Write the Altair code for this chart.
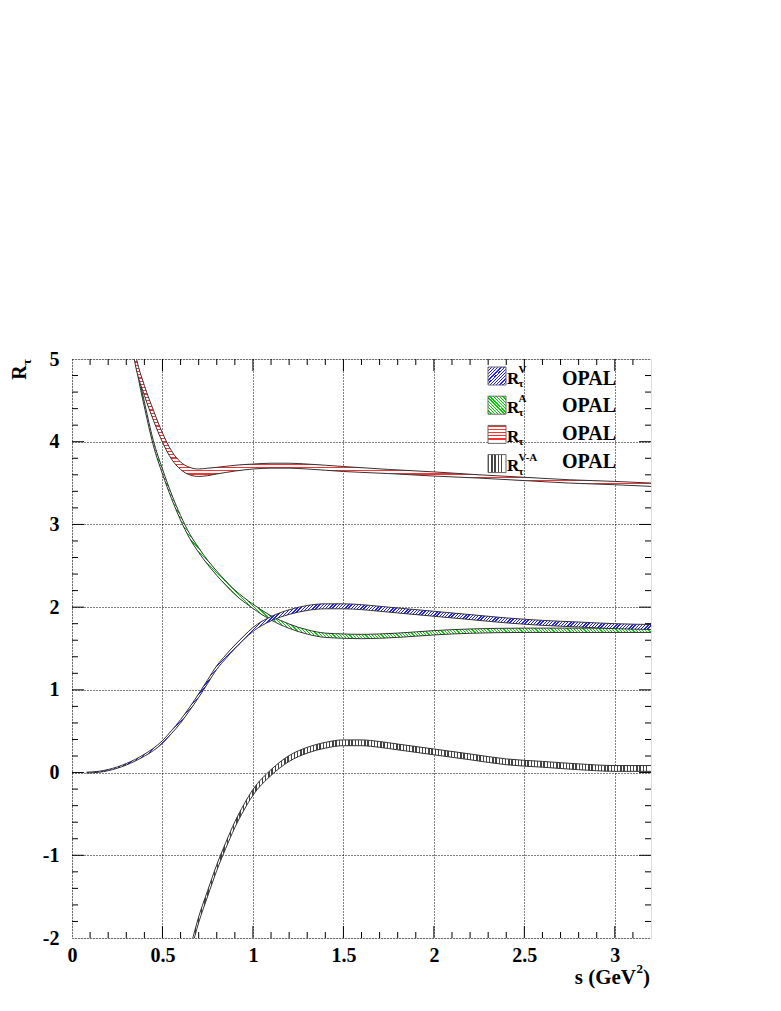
import math
import altair as alt
import pandas as pd

# ---------------- values ----------------
# R_tau^V (blue band)
s_V = [0.08, 0.15, 0.20, 0.25, 0.30, 0.35, 0.40, 0.45, 0.50, 0.55,
       0.60, 0.65, 0.70, 0.75, 0.80, 0.85, 0.90, 0.95, 1.00,
       1.10, 1.20, 1.30, 1.40, 1.50, 1.60, 1.70, 1.80,
       2.00, 2.20, 2.40, 2.60, 2.80, 3.00, 3.20]
V = [0.00, 0.01, 0.03, 0.06, 0.10, 0.15, 0.21, 0.28, 0.37, 0.49,
     0.62, 0.77, 0.93, 1.10, 1.27, 1.40, 1.52, 1.63, 1.73,
     1.86, 1.94, 1.99, 2.01, 2.01, 2.00, 1.98, 1.96,
     1.92, 1.88, 1.84, 1.81, 1.79, 1.77, 1.76]
V_err = [0.005, 0.006, 0.007, 0.008, 0.009, 0.010, 0.012, 0.014, 0.016, 0.018,
         0.020, 0.020, 0.022, 0.022, 0.022, 0.022, 0.022, 0.022, 0.024,
         0.026, 0.028, 0.030, 0.030, 0.030, 0.030, 0.030, 0.030,
         0.030, 0.030, 0.030, 0.030, 0.030, 0.030, 0.030]

# R_tau^A (green band)
s_A = [0.33, 0.35, 0.38, 0.40, 0.45, 0.50, 0.55, 0.60, 0.65, 0.70,
       0.75, 0.80, 0.85, 0.90, 0.95, 1.00, 1.10, 1.20, 1.30, 1.40,
       1.50, 1.60, 1.70, 1.80, 2.00, 2.20, 2.50, 2.80, 3.20]
A = [5.25, 5.00, 4.65, 4.45, 3.98, 3.64, 3.34, 3.08, 2.86, 2.69,
     2.54, 2.41, 2.29, 2.18, 2.09, 2.01, 1.87, 1.77, 1.70, 1.66,
     1.65, 1.645, 1.65, 1.66, 1.69, 1.71, 1.72, 1.72, 1.72]
A_err = [0.030, 0.030, 0.030, 0.030, 0.030, 0.030, 0.028, 0.028, 0.028, 0.028,
         0.026, 0.026, 0.026, 0.026, 0.026, 0.026, 0.026, 0.026, 0.026, 0.026,
         0.026, 0.026, 0.026, 0.026, 0.026, 0.026, 0.026, 0.026, 0.026]

# R_tau (red band)
s_R = [0.33, 0.35, 0.40, 0.45, 0.50, 0.55, 0.60, 0.65, 0.70, 0.75,
       0.80, 0.90, 1.00, 1.10, 1.20, 1.30, 1.50, 1.75, 2.00, 2.25,
       2.50, 2.75, 3.00, 3.20]
R = [5.25, 5.00, 4.62, 4.32, 4.05, 3.84, 3.71, 3.645, 3.625, 3.635,
     3.65, 3.68, 3.70, 3.71, 3.71, 3.70, 3.67, 3.64, 3.61, 3.58,
     3.55, 3.52, 3.50, 3.48]
R_err = [0.07, 0.07, 0.06, 0.06, 0.055, 0.05, 0.045, 0.045, 0.045, 0.045,
         0.04, 0.035, 0.03, 0.03, 0.03, 0.03, 0.03, 0.025, 0.025, 0.02,
         0.02, 0.02, 0.02, 0.02]

# R_tau^{V-A} (black band)
s_D = [0.66, 0.70, 0.75, 0.80, 0.85, 0.90, 0.95, 1.00, 1.10, 1.20,
       1.30, 1.40, 1.50, 1.60, 1.70, 1.80, 2.00, 2.20, 2.40, 2.60,
       2.80, 3.00, 3.20]
D = [-2.10, -1.78, -1.46, -1.15, -0.88, -0.63, -0.42, -0.24, 0.00, 0.17,
     0.27, 0.33, 0.36, 0.36, 0.34, 0.31, 0.25, 0.19, 0.13, 0.10,
     0.07, 0.05, 0.05]
D_err = [0.035] * len(s_D)

x_tick_labels = [0, 0.5, 1, 1.5, 2, 2.5, 3]
y_tick_labels = [-2, -1, 0, 1, 2, 3, 4, 5]

legend_sup = ["V", "A", "", "V-A"]
legend_sub = ["τ", "τ", "τ", "τ"]
legend_tag = ["OPAL", "OPAL", "OPAL", "OPAL"]

# ---------------- layout / style ----------------
W, H = 579, 579
XMIN, XMAX = 0.0, 3.2
YMIN, YMAX = -2.0, 5.0
KX = W / (XMAX - XMIN)
KY = H / (YMAX - YMIN)
FONT = "Liberation Serif, Times New Roman, Times, serif"
PERIOD = 3.2

def px2s(px):
    return XMIN + px / KX

def px2v(py):
    return YMAX - py / KY

xsc = alt.Scale(domain=[XMIN, XMAX], nice=False, zero=False)
ysc = alt.Scale(domain=[YMIN, YMAX], nice=False, zero=False)

xaxis = alt.Axis(values=x_tick_labels, labelExpr="datum.value + ''", ticks=False, domain=False,
                 grid=True, gridDash=[1, 2], gridColor="#000000", gridOpacity=1, gridWidth=1,
                 labelFont=FONT, labelFontWeight="bold", labelFontSize=20, labelColor="black",
                 labelPadding=7, labelFlush=False, labelOverlap=False, title="")
yaxis = alt.Axis(values=y_tick_labels, labelExpr="datum.value + ''", ticks=False, domain=False,
                 grid=True, gridDash=[1, 2], gridColor="#000000", gridOpacity=1, gridWidth=1,
                 labelFont=FONT, labelFontWeight="bold", labelFontSize=20, labelColor="black",
                 labelPadding=13, labelFlush=False, labelOverlap=False, title="")


def stripes(color, n, frac=0.42):
    stops = []
    for i in range(int(n)):
        a, b, c = i / n, (i + frac) / n, (i + 1) / n
        stops += [alt.GradientStop(offset=a, color=color),
                  alt.GradientStop(offset=b, color=color),
                  alt.GradientStop(offset=b, color="white"),
                  alt.GradientStop(offset=min(c, 1.0), color="white")]
    return stops


def hatch(kind, color, wpx, hpx):
    if kind == "h":
        n = hpx / PERIOD
        return alt.LinearGradient(gradient="linear", stops=stripes(color, n), x1=0, y1=0, x2=0, y2=1)
    if kind == "v":
        n = wpx / PERIOD
        return alt.LinearGradient(gradient="linear", stops=stripes(color, n), x1=0, y1=0, x2=1, y2=0)
    r = hpx / wpx
    k = (1 + r) / (1 + r * r)
    n = (wpx + hpx) / PERIOD
    if kind == "/":
        return alt.LinearGradient(gradient="linear", stops=stripes(color, n), x1=0, y1=0, x2=k, y2=k * r)
    return alt.LinearGradient(gradient="linear", stops=stripes(color, n), x1=0, y1=1, x2=k, y2=1 - k * r)


def band(s, c, e, kind, color, first=False):
    lo = [a - b for a, b in zip(c, e)]
    hi = [a + b for a, b in zip(c, e)]
    df = pd.DataFrame({"s": s, "lo": lo, "hi": hi})
    wpx = (max(s) - min(s)) * KX
    hpx = (max(hi) - min(lo)) * KY
    enc_x = alt.X("s:Q", scale=xsc, axis=xaxis) if first else alt.X("s:Q", scale=xsc)
    enc_y = alt.Y("lo:Q", scale=ysc, axis=yaxis) if first else alt.Y("lo:Q", scale=ysc)
    area = alt.Chart(df).mark_area(fill=hatch(kind, color, wpx, hpx), opacity=1, clip=True,
                                   interpolate="monotone").encode(x=enc_x, y=enc_y, y2="hi:Q")
    l1 = alt.Chart(df).mark_line(color="#333333", strokeWidth=1, clip=True, interpolate="monotone").encode(
        x=alt.X("s:Q", scale=xsc), y=alt.Y("lo:Q", scale=ysc))
    l2 = alt.Chart(df).mark_line(color="#333333", strokeWidth=1, clip=True, interpolate="monotone").encode(
        x=alt.X("s:Q", scale=xsc), y=alt.Y("hi:Q", scale=ysc))
    return [area, l1, l2]


layers = []
layers += band(s_A, A, A_err, "\\", "#00d000", first=True)
layers += band(s_V, V, V_err, "/", "#2020ff")
layers += band(s_R, R, R_err, "h", "#ff3030")
layers += band(s_D, D, D_err, "v", "#444444")

# ---------------- inward ticks on all four sides ----------------
MAJ, MIN_ = 12, 6
xt = [round(0.1 * i, 2) for i in range(1, 32)]
xt_len = [MAJ if abs(v * 2 - round(v * 2)) < 1e-6 else MIN_ for v in xt]
tick_rows = []
for v, L in zip(xt, xt_len):
    tick_rows.append({"x0": v, "x1": v, "y0": YMIN, "y1": YMIN + L / KY})
    tick_rows.append({"x0": v, "x1": v, "y0": YMAX, "y1": YMAX - L / KY})
yt = [round(-2 + 0.2 * i, 2) for i in range(1, 35)]
for v in yt:
    L = MAJ if abs(v - round(v)) < 1e-6 else MIN_
    tick_rows.append({"x0": XMIN, "x1": XMIN + L / KX, "y0": v, "y1": v})
    tick_rows.append({"x0": XMAX, "x1": XMAX - L / KX, "y0": v, "y1": v})
ticks = alt.Chart(pd.DataFrame(tick_rows)).mark_rule(color="black", strokeWidth=1).encode(
    x=alt.X("x0:Q", scale=xsc), x2="x1:Q", y=alt.Y("y0:Q", scale=ysc), y2="y1:Q")
layers.append(ticks)

# ---------------- legend ----------------
ROW = 29.2
box_kinds = [("/", "#2020ff"), ("\\", "#00d000"), ("h", "#ff3030"), ("v", "#444444")]
for i, (kind, col) in enumerate(box_kinds):
    top = 8 + ROW * i
    bdf = pd.DataFrame({"x0": [px2s(416)], "x1": [px2s(434)], "y0": [px2v(top)], "y1": [px2v(top + 18)]})
    layers.append(alt.Chart(bdf).mark_rect(fill=hatch(kind, col, 18, 18), stroke="#666666", strokeWidth=1).encode(
        x=alt.X("x0:Q", scale=xsc), x2="x1:Q", y=alt.Y("y0:Q", scale=ysc), y2="y1:Q"))

leg = pd.DataFrame({
    "row": [0, 1, 2, 3],
    "sup": legend_sup,
    "sub": legend_sub,
    "tag": legend_tag,
})
leg["R"] = "R"
leg["xR"] = px2s(435)
leg["yR"] = [px2v(24.5 + ROW * i) for i in range(4)]
leg["xS"] = px2s(446.5)
leg["ySup"] = [px2v(14 + ROW * i) for i in range(4)]
leg["ySub"] = [px2v(28 + ROW * i) for i in range(4)]
leg["xT"] = px2s(490)
leg["yT"] = [px2v(25.5 + 27.9 * i) for i in range(4)]

def txt(df, xf, yf, tf, size, align="left"):
    return alt.Chart(df).mark_text(font=FONT, fontWeight="bold", fontSize=size, align=align,
                                   baseline="alphabetic", color="black").encode(
        x=alt.X(f"{xf}:Q", scale=xsc), y=alt.Y(f"{yf}:Q", scale=ysc), text=f"{tf}:N")

layers.append(txt(leg, "xR", "yR", "R", 17))
layers.append(txt(leg, "xS", "ySup", "sup", 11))
layers.append(txt(leg, "xS", "ySub", "sub", 11))
layers.append(txt(leg, "xT", "yT", "tag", 20))

# ---------------- axis titles ----------------
xt_df = pd.DataFrame({"t": ["s (GeV", "2", ")"],
                      "x": [px2s(564), px2s(564.5), px2s(571)],
                      "y": [px2v(625), px2v(614), px2v(625)],
                      "size": [21, 13, 21],
                      "align": ["right", "left", "left"]})
for _, r in xt_df.iterrows():
    layers.append(txt(pd.DataFrame([r]), "x", "y", "t", int(r["size"]), r["align"]))

yt_df = pd.DataFrame({"t": ["R"], "x": [px2s(-46)], "y": [px2v(13.5)]})
layers.append(alt.Chart(yt_df).mark_text(font=FONT, fontWeight="bold", fontSize=20, angle=270, align="center",
                                         baseline="alphabetic", color="black").encode(
    x=alt.X("x:Q", scale=xsc), y=alt.Y("y:Q", scale=ysc), text="t:N"))
ys_df = pd.DataFrame({"t": ["τ"], "x": [px2s(-41)], "y": [px2v(6)]})
layers.append(alt.Chart(ys_df).mark_text(font=FONT, fontWeight="bold", fontSize=13, angle=270, align="left",
                                         baseline="alphabetic", color="black").encode(
    x=alt.X("x:Q", scale=xsc), y=alt.Y("y:Q", scale=ysc), text="t:N"))

chart = alt.layer(*layers).properties(
    width=W, height=H,
    autosize=alt.AutoSizeParams(type="none"),
    padding={"left": 64, "top": 351, "right": 60, "bottom": 60},
).configure_view(stroke="black", strokeWidth=1).configure(background="white")

chart.save("out.html", embed_options={"renderer": "svg", "actions": False})
